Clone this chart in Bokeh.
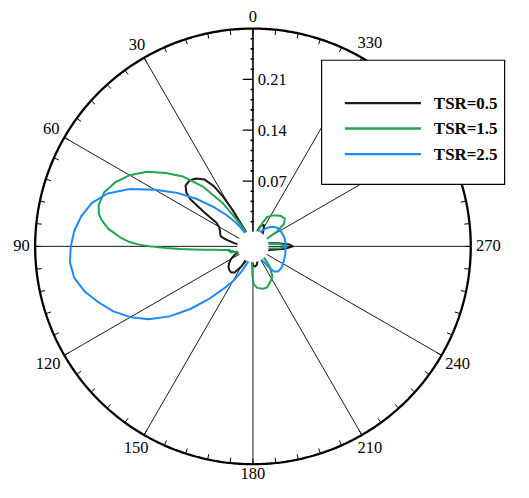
import numpy as np
from bokeh.plotting import figure
from bokeh.core.properties import value
from bokeh.embed import file_html
from bokeh.resources import INLINE

# ---------------- data ----------------
black_theta = [25, 27, 29, 31, 33, 36, 40, 44, 48, 51, 53, 55, 57, 60, 65, 70, 73, 76, 80, 83,
               110, 115, 120, 125, 130, 135, 140, 145, 150, 155,
               175, 180, 186, 192, 198,
               255, 262, 266, 270, 273, 277, 282,
               320, 328, 333, 340, 345, 385]
black_r = [0, 0.010, 0.035, 0.060, 0.079, 0.094, 0.102, 0.106, 0.105, 0.098, 0.088, 0.062, 0.040, 0.034, 0.030, 0.028, 0.026, 0.018, 0.006, 0,
           0, 0.008, 0.015, 0.020, 0.024, 0.026, 0.027, 0.024, 0.012, 0,
           0, 0.006, 0.008, 0.006, 0,
           0, 0.012, 0.025, 0.035, 0.030, 0.015, 0,
           0, 0.008, 0.013, 0.010, 0, 0]

green_theta = [26, 28, 30, 35, 40, 45, 50, 55, 60, 65, 70, 75, 78, 80, 83, 86, 88, 89, 90, 91, 92, 93, 94, 95, 97, 99, 101, 103, 105, 108, 112,
               176, 179, 181, 186, 193, 199, 205, 213, 220, 225,
               262, 266, 270, 275, 280,
               298, 302, 306, 311, 317, 322, 328, 334, 338, 342, 386]
green_r = [0, 0.006, 0.017, 0.053, 0.088, 0.116, 0.137, 0.159, 0.176, 0.189, 0.198, 0.200, 0.197, 0.192, 0.181, 0.164, 0.150, 0.138, 0.122, 0.100, 0.080, 0.062, 0.047, 0.033, 0.020, 0.012, 0.014, 0.008, 0.012, 0.004, 0,
           0, 0.020, 0.032, 0.0375, 0.040, 0.040, 0.035, 0.0295, 0.015, 0,
           0, 0.018, 0.026, 0.018, 0,
           0, 0.020, 0.033, 0.038, 0.037, 0.034, 0.030, 0.025, 0.015, 0, 0]

blue_theta = [30, 33, 35, 40, 45, 50, 55, 60, 65, 70, 75, 80, 85, 90, 95, 100, 105, 110, 115, 120, 125, 130, 135, 140, 145, 150, 155, 160, 165,
              212, 216, 220, 225, 235, 245, 255, 265, 275, 285, 295, 305, 312, 318, 325, 332, 336, 390]
blue_r = [0, 0.010, 0.018, 0.036, 0.057, 0.082, 0.109, 0.136, 0.167, 0.193, 0.210, 0.220, 0.227, 0.231, 0.233, 0.230, 0.220, 0.206, 0.192, 0.175, 0.155, 0.130, 0.102, 0.075, 0.052, 0.036, 0.020, 0.006, 0,
          0, 0.012, 0.025, 0.029, 0.029, 0.027, 0.026, 0.025, 0.025, 0.025, 0.024, 0.023, 0.020, 0.016, 0.010, 0.003, 0, 0]

series_names = ["TSR=0.5", "TSR=1.5", "TSR=2.5"]
series_colors = ["#1a1a1a", "#1fa64f", "#1e88ff"]

angle_ticks = [0, 30, 60, 90, 120, 150, 180, 210, 240, 270, 300, 330]
radial_ticks = [0.07, 0.14, 0.21]
r_max = 0.28

# ---------------- layout constants ----------------
S = 0.968                      # page scale so the whole chart fits the window
HOLE = 0.02                    # inner blank radius (radial value 0 sits here)
R_OUT = HOLE + r_max           # outer circle
PX = 750.0 * S                 # px per unit
W, H = 513, 482
cx_px, cy_px = 260.8 * S, 254.0 * S

def u(px):
    """reference pixels -> data units"""
    return px * S / PX

def pol(theta_deg, r):
    t = np.radians(np.asarray(theta_deg, dtype=float))
    rr = HOLE + np.asarray(r, dtype=float)
    return -rr * np.sin(t), rr * np.cos(t)

p = figure(width=W, height=H, output_backend="svg", toolbar_location=None,
           x_range=(-cx_px / PX, (W - cx_px) / PX),
           y_range=(-(H - cy_px) / PX, cy_px / PX),
           x_axis_type=None, y_axis_type=None, min_border=0)
p.outline_line_color = None
p.grid.visible = False
p.background_fill_color = "white"

FONT = value("Liberation Serif")
FS = f"{17 * S:.1f}px"
FSL = f"{17.5 * S:.1f}px"

# spokes
sx0, sy0, sx1, sy1 = [], [], [], []
for a in angle_ticks:
    t = np.radians(a)
    sx0.append(-HOLE * np.sin(t)); sy0.append(HOLE * np.cos(t))
    sx1.append(-R_OUT * np.sin(t)); sy1.append(R_OUT * np.cos(t))
p.segment(sx0, sy0, sx1, sy1, line_color="black", line_width=0.9)

# minor ticks on outer circle every 6 degrees
mt = np.radians(np.arange(0, 360, 6))
tl = u(5.5)
p.segment(-R_OUT * np.sin(mt), R_OUT * np.cos(mt), -(R_OUT - tl) * np.sin(mt), (R_OUT - tl) * np.cos(mt),
          line_color="black", line_width=1)

# outer circle
ct = np.linspace(0, 2 * np.pi, 721)
p.line(R_OUT * np.cos(ct), R_OUT * np.sin(ct), line_color="black", line_width=2.3)

# curves
for th, rv, col in [(black_theta, black_r, series_colors[0]),
                    (green_theta, green_r, series_colors[1]),
                    (blue_theta, blue_r, series_colors[2])]:
    x, y = pol(th, rv)
    p.line(x, y, line_color=col, line_width=2, line_join="round")

# centre hole
p.circle(x=[0], y=[0], radius=HOLE + u(1.2), fill_color="white", line_color=None)

# radial axis
p.segment([0], [HOLE], [0], [R_OUT], line_color="black", line_width=1.3)
minor = np.arange(0.014, r_max, 0.014)
minor = [m for m in minor if min(abs(m - rt) for rt in radial_ticks) > 1e-6]
mr = HOLE + np.array(minor)
p.segment(np.full(len(mr), -u(2.5)), mr, np.full(len(mr), u(1.0)), mr, line_color="black", line_width=1.6)
rt = HOLE + np.array(radial_ticks)
p.segment(np.full(len(rt), -u(10.5)), rt, np.zeros(len(rt)), rt, line_color="black", line_width=1.2)
p.text(x=np.full(len(rt), u(5)), y=rt, text=[f"{v:.2f}" for v in radial_ticks],
       text_font=FONT, text_font_size=FS, text_align="left", text_baseline="middle", text_color="black")

# angle labels
lx, ly = [], []
for a in angle_ticks:
    t = np.radians(a)
    s = str(a)
    w = 8.5 * len(s)
    h = 11.0
    d = R_OUT + u(5.5 + (w / 2) * abs(np.sin(t)) + (h / 2) * abs(np.cos(t)))
    lx.append(-d * np.sin(t)); ly.append(d * np.cos(t) + u(1.0))
p.text(x=lx, y=ly, text=[str(a) for a in angle_ticks], text_font=FONT, text_font_size=FS,
       text_align="center", text_baseline="middle", text_color="black")

# legend box (reference pixel offsets from the centre)
p.quad(left=[u(70.9)], right=[u(260.0)], bottom=[u(64.0)], top=[u(192.3)],
       fill_color="white", line_color="black", line_width=1.2)
ly_px = [148.0, 121.7, 95.3]
for name, col, yy in zip(series_names, series_colors, ly_px):
    p.line([u(94.9), u(173.5)], [u(yy), u(yy)], line_color=col, line_width=2.4)
p.text(x=[u(186.9)] * 3, y=[u(yy) for yy in ly_px], text=series_names, text_font=FONT,
       text_font_size=FSL, text_font_style="bold", text_align="left", text_baseline="middle", text_color="black")

open("out.html", "w").write(file_html(p, INLINE))
